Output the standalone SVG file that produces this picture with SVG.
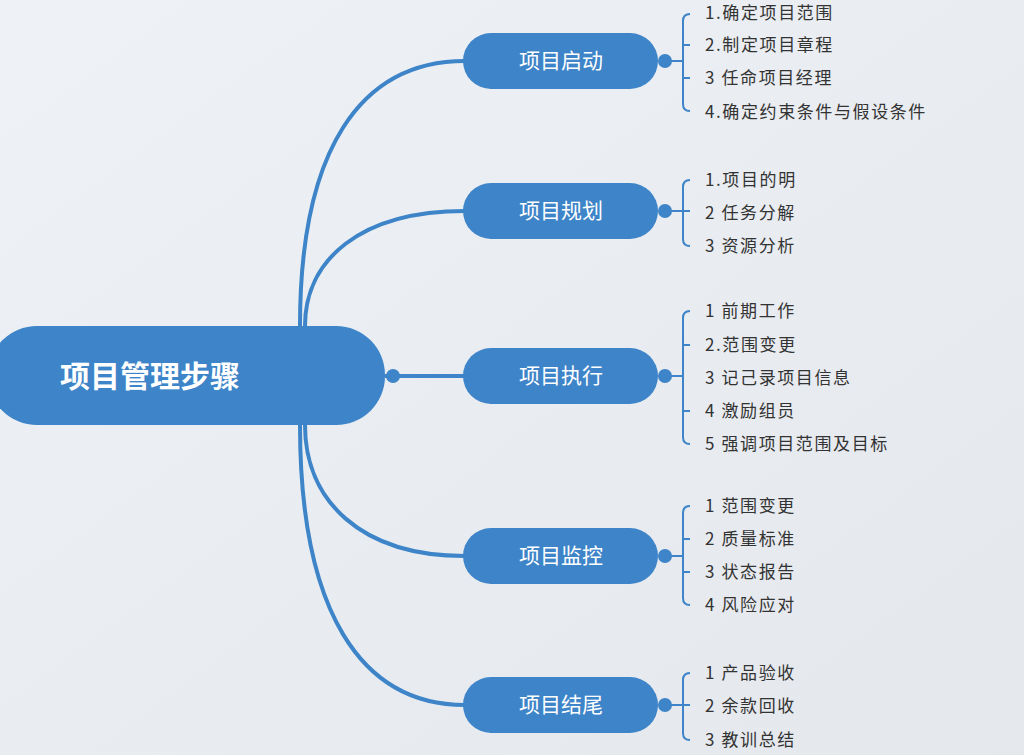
<svg xmlns="http://www.w3.org/2000/svg" width="1024" height="755" viewBox="0 0 1024 755">
<defs>
<linearGradient id="bg" x1="0" y1="0" x2="1" y2="1"><stop offset="0" stop-color="#eef1f5"/><stop offset="1" stop-color="#e4e8ed"/></linearGradient>
<style>
.n{fill:#3d84c8}
.nt{fill:#fff;font-family:"Noto Sans CJK SC",sans-serif;font-size:21px;text-anchor:middle}
.it{fill:#333;font-family:"Noto Sans CJK SC",sans-serif;font-size:17px;letter-spacing:1.6px}
.c{fill:none;stroke:#3d84c8;stroke-width:4}
.b{fill:none;stroke:#3d84c8;stroke-width:2}
</style>
</defs>
<rect width="1024" height="755" fill="url(#bg)"/>
<g id="connectors">
<path class="c" d="M300 326 C300 150 360 61 465 61"/>
<path class="c" d="M305 326 C305 260 360 211 465 211"/>
<path class="c" d="M385 376 L465 376"/>
<path class="c" d="M305 425 C305 500 360 556 465 556"/>
<path class="c" d="M300 425 C300 610 360 705 465 705"/>
<circle cx="393" cy="376" r="7" class="n"/>
<g class="n"><circle cx="665" cy="61" r="7"/><circle cx="665" cy="211" r="7"/><circle cx="665" cy="376" r="7"/><circle cx="665" cy="556" r="7"/><circle cx="665" cy="705" r="7"/></g>
<path class="b" d="M665 61H683M690 14q-7 0-7 7V104q0 7 7 7M683 45h7M683 78h7"/>
<path class="b" d="M665 211H690M690 180q-7 0-7 7V239q0 7 7 7"/>
<path class="b" d="M665 376H683M690 311q-7 0-7 7V437q0 7 7 7M683 345h7M683 411h7"/>
<path class="b" d="M665 556H683M690 506q-7 0-7 7V598q0 7 7 7M683 539h7M683 572h7"/>
<path class="b" d="M665 705H690M690 673q-7 0-7 7V733q0 7 7 7"/>
</g>
<g id="root"><rect x="-12" y="326" width="397" height="99" rx="49" class="n"/><text x="60" y="387" font-family="'Noto Sans CJK SC',sans-serif" font-size="30" font-weight="bold" fill="#fff">项目管理步骤</text></g>
<g id="n1"><rect x="463" y="33" width="195" height="56" rx="28" class="n"/><text x="561" y="68" class="nt">项目启动</text></g>
<g id="n2"><rect x="463" y="183" width="195" height="56" rx="28" class="n"/><text x="561" y="218" class="nt">项目规划</text></g>
<g id="n3"><rect x="463" y="348" width="195" height="56" rx="28" class="n"/><text x="561" y="383" class="nt">项目执行</text></g>
<g id="n4"><rect x="463" y="528" width="195" height="56" rx="28" class="n"/><text x="561" y="563" class="nt">项目监控</text></g>
<g id="n5"><rect x="463" y="677" width="195" height="56" rx="28" class="n"/><text x="561" y="712" class="nt">项目结尾</text></g>
<g id="items" class="it">
<text x="705" y="19">1.确定项目范围</text>
<text x="705" y="51">2.制定项目章程</text>
<text x="705" y="84">3 任命项目经理</text>
<text x="705" y="118">4.确定约束条件与假设条件</text>
<text x="705" y="186">1.项目的明</text>
<text x="705" y="219">2 任务分解</text>
<text x="705" y="252">3 资源分析</text>
<text x="705" y="317">1 前期工作</text>
<text x="705" y="351">2.范围变更</text>
<text x="705" y="384">3 记己录项目信息</text>
<text x="705" y="417">4 激励组员</text>
<text x="705" y="450">5 强调项目范围及目标</text>
<text x="705" y="512">1 范围变更</text>
<text x="705" y="545">2 质量标准</text>
<text x="705" y="578">3 状态报告</text>
<text x="705" y="611">4 风险应对</text>
<text x="705" y="679">1 产品验收</text>
<text x="705" y="712">2 余款回收</text>
<text x="705" y="746">3 教训总结</text>
</g>
</svg>
